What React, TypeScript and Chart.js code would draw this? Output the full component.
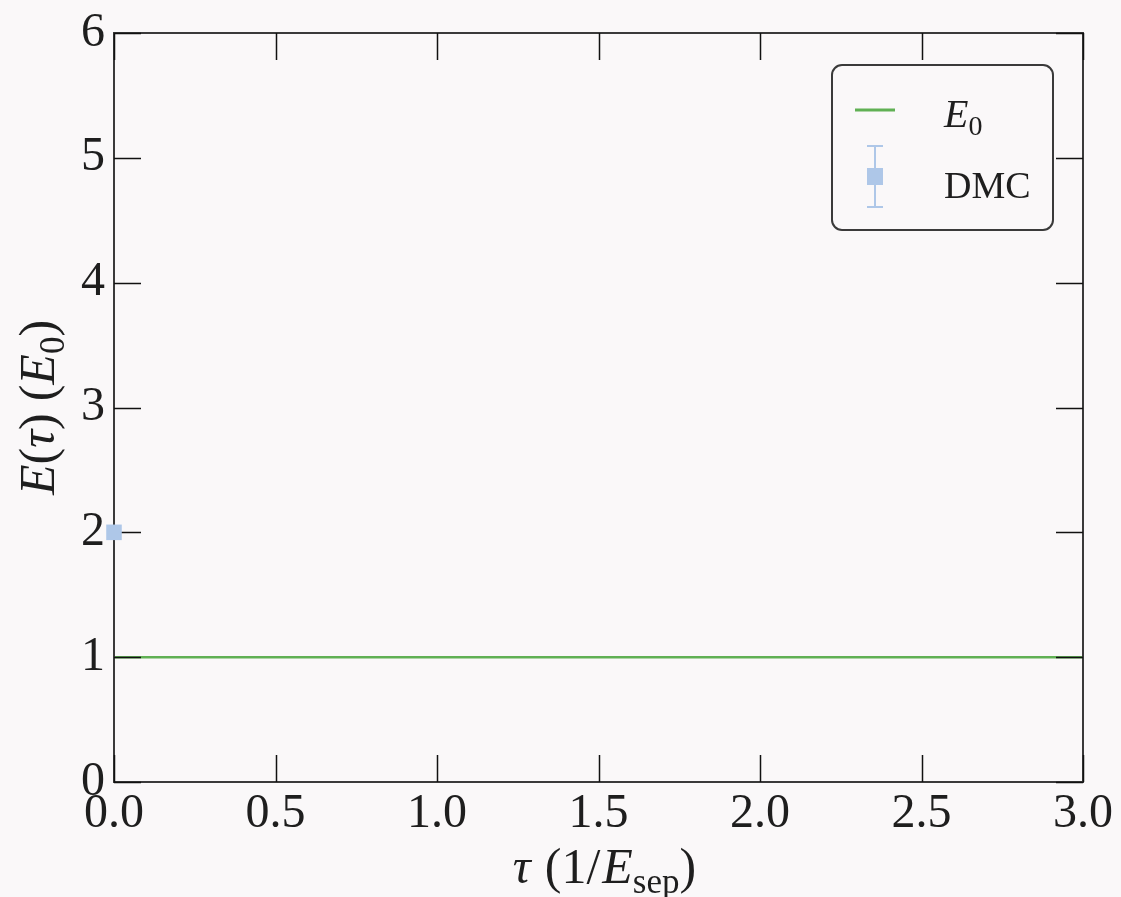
import React, { useEffect, useRef } from "react";
import { Chart, registerables } from "chart.js";

Chart.register(...registerables);

// Axis ticks
const tauTicks = [0, 0.5, 1, 1.5, 2, 2.5, 3];
const energyTicks = [0, 1, 2, 3, 4, 5, 6];

// Exact ground-state energy (flat reference line)
const groundTau = [0, 3];
const groundEnergy = [1, 1];

// DMC estimate
const dmcTau = [0];
const dmcEnergy = [2];

const BG = "#faf8f9";
const INK = "#1e1e1e";
const FRAME = "#3a3a3a";
const GREEN = "rgb(96,176,84)";
const BLUE = "rgb(174,199,232)";
const SERIF = '"Liberation Serif", "DejaVu Serif", serif';

const W = 1121;
const H = 897;
const TICK_LEN = 27;

type Run = { t: string; it?: boolean; sub?: boolean; gap?: number };

function drawRuns(
  ctx: CanvasRenderingContext2D,
  runs: Run[],
  size: number,
  x: number,
  baseline: number,
  align: "center" | "left"
) {
  const fontOf = (r: Run) =>
    `${r.it ? "italic " : ""}${r.sub ? Math.round(size * 0.7) : size}px ${SERIF}`;
  const widths = runs.map((r) => {
    ctx.font = fontOf(r);
    return ctx.measureText(r.t).width + (r.gap || 0);
  });
  const total = widths.reduce((a, b) => a + b, 0);
  let cx = align === "center" ? x - total / 2 : x;
  ctx.textAlign = "left";
  ctx.textBaseline = "alphabetic";
  runs.forEach((r, i) => {
    ctx.font = fontOf(r);
    ctx.fillText(r.t, cx, baseline + (r.sub ? size * 0.2 : 0));
    cx += widths[i];
  });
}

const backgroundPlugin = {
  id: "pageBackground",
  beforeDraw(chart: Chart) {
    const ctx = chart.ctx;
    ctx.save();
    ctx.fillStyle = BG;
    ctx.fillRect(0, 0, chart.width, chart.height);
    ctx.restore();
  },
};

// Frame and inward ticks, drawn over the reference line but under the DMC marker
const framePlugin = {
  id: "frameTicks",
  afterDatasetDraw(chart: Chart, args: { index: number }) {
    if (args.index !== 1) return;
    const { ctx, chartArea } = chart;
    const { left, right, top, bottom } = chartArea;
    const xs = chart.scales.x;
    const ys = chart.scales.y;
    ctx.save();
    ctx.strokeStyle = FRAME;
    ctx.lineWidth = 2;
    ctx.strokeRect(left, top, right - left, bottom - top);
    ctx.strokeStyle = "#111";
    ctx.lineWidth = 1.5;
    ctx.beginPath();
    tauTicks.forEach((v) => {
      const px = Math.round(xs.getPixelForValue(v)) + 0.5;
      ctx.moveTo(px, bottom);
      ctx.lineTo(px, bottom - TICK_LEN);
      ctx.moveTo(px, top);
      ctx.lineTo(px, top + TICK_LEN);
    });
    energyTicks.forEach((v) => {
      const py = Math.round(ys.getPixelForValue(v)) + 0.5;
      ctx.moveTo(left, py);
      ctx.lineTo(left + TICK_LEN, py);
      ctx.moveTo(right, py);
      ctx.lineTo(right - TICK_LEN, py);
    });
    ctx.stroke();
    ctx.restore();
  },
};

const annotationPlugin = {
  id: "titlesLegend",
  afterDraw(chart: Chart) {
    const { ctx, chartArea } = chart;
    const midX = (chartArea.left + chartArea.right) / 2;
    const midY = (chartArea.top + chartArea.bottom) / 2;
    ctx.save();
    ctx.fillStyle = INK;

    // x-axis title
    drawRuns(
      ctx,
      [
        { t: "τ", it: true, gap: 14 },
        { t: "(1/", gap: 2 },
        { t: "E", it: true },
        { t: "sep", sub: true },
        { t: ")" },
      ],
      50,
      midX + 6,
      883,
      "center"
    );

    // y-axis title
    ctx.save();
    ctx.translate(54, midY);
    ctx.rotate(-Math.PI / 2);
    drawRuns(
      ctx,
      [
        { t: "E", it: true },
        { t: "(" },
        { t: "τ", it: true },
        { t: ")", gap: 12 },
        { t: "(" },
        { t: "E", it: true },
        { t: "0", sub: true },
        { t: ")" },
      ],
      50,
      0,
      0,
      "center"
    );
    ctx.restore();

    // legend box
    ctx.beginPath();
    ctx.roundRect(832, 65, 221, 165, 10);
    ctx.fillStyle = BG;
    ctx.fill();
    ctx.strokeStyle = FRAME;
    ctx.lineWidth = 2;
    ctx.stroke();

    // legend: reference line
    ctx.strokeStyle = GREEN;
    ctx.lineWidth = 3;
    ctx.beginPath();
    ctx.moveTo(855, 110);
    ctx.lineTo(895, 110);
    ctx.stroke();

    // legend: DMC marker with error bar
    ctx.strokeStyle = BLUE;
    ctx.lineWidth = 2;
    ctx.beginPath();
    ctx.moveTo(875, 146);
    ctx.lineTo(875, 207);
    ctx.moveTo(867, 146);
    ctx.lineTo(883, 146);
    ctx.moveTo(867, 207);
    ctx.lineTo(883, 207);
    ctx.stroke();
    ctx.fillStyle = BLUE;
    ctx.fillRect(867, 168, 16, 17);

    ctx.fillStyle = INK;
    drawRuns(ctx, [{ t: "E", it: true }, { t: "0", sub: true }], 40, 944, 127, "left");
    drawRuns(ctx, [{ t: "DMC" }], 38, 944, 198, "left");
    ctx.restore();
  },
};

export default function App() {
  const canvasRef = useRef<HTMLCanvasElement | null>(null);

  useEffect(() => {
    document.body.style.margin = "0";
    document.body.style.background = BG;
    const canvas = canvasRef.current;
    if (!canvas) return;

    const chart = new Chart(canvas, {
      type: "scatter",
      data: {
        datasets: [
          {
            label: "DMC",
            data: dmcTau.map((x, i) => ({ x, y: dmcEnergy[i] })),
            pointStyle: "rect",
            pointRadius: 11,
            pointHoverRadius: 11,
            backgroundColor: BLUE,
            borderWidth: 0,
            clip: false as any,
          },
          {
            type: "line",
            label: "E0",
            data: groundTau.map((x, i) => ({ x, y: groundEnergy[i] })),
            borderColor: GREEN,
            borderWidth: 2.5,
            pointRadius: 0,
            showLine: true,
            fill: false,
          } as any,
        ],
      },
      options: {
        animation: false,
        responsive: false,
        events: [],
        layout: { padding: { top: 33, right: 37, left: 0, bottom: 0 } },
        plugins: {
          legend: { display: false },
          tooltip: { enabled: false },
        },
        scales: {
          x: {
            type: "linear",
            min: 0,
            max: 3,
            grid: { display: false, drawTicks: false },
            border: { display: false },
            afterBuildTicks: (s: any) => {
              s.ticks = tauTicks.map((value) => ({ value }));
            },
            afterFit: (s: any) => {
              s.height = H - 782;
            },
            ticks: {
              autoSkip: false,
              maxRotation: 0,
              padding: 8,
              color: INK,
              font: { family: SERIF, size: 48, lineHeight: 1 },
              callback: (v: any) => Number(v).toFixed(1),
            },
          },
          y: {
            type: "linear",
            min: 0,
            max: 6,
            grid: { display: false, drawTicks: false },
            border: { display: false },
            afterBuildTicks: (s: any) => {
              s.ticks = energyTicks.map((value) => ({ value }));
            },
            afterFit: (s: any) => {
              s.width = 114;
            },
            ticks: {
              autoSkip: false,
              padding: 9,
              color: INK,
              font: { family: SERIF, size: 48, lineHeight: 1 },
              callback: (v: any) => String(v),
            },
          },
        },
      },
      plugins: [backgroundPlugin, framePlugin, annotationPlugin],
    });

    return () => chart.destroy();
  }, []);

  return (
    <div style={{ width: W, height: H, background: BG }}>
      <canvas ref={canvasRef} width={W} height={H} style={{ display: "block" }} />
    </div>
  );
}
